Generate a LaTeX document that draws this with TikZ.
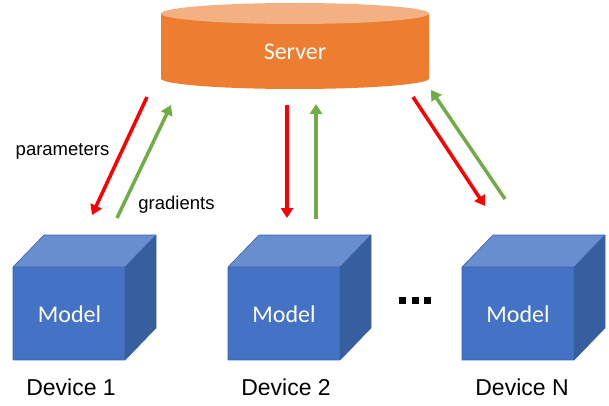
\documentclass[tikz,border=0pt]{standalone}
\usepackage{fontspec}
\setmainfont{Liberation Sans}
\newfontfamily\calfont{Carlito}
\usetikzlibrary{arrows.meta}
\definecolor{srvbody}{HTML}{ED7D31}
\definecolor{srvtop}{HTML}{F3B183}
\definecolor{cubefront}{HTML}{4472C4}
\definecolor{cubetop}{HTML}{698ED0}
\definecolor{cubeside}{HTML}{365F9F}
\definecolor{cubeedge}{HTML}{3A62A8}
\definecolor{arrred}{HTML}{FF0000}
\definecolor{arrgreen}{HTML}{70AD47}
\begin{document}
\begin{tikzpicture}[x=1pt,y=1pt,
  flow/.style={line width=3.5pt, -{Triangle[length=10pt,width=12pt]}},
  downflow/.style={flow, draw=arrred},
  upflow/.style={flow, draw=arrgreen},
  lbl/.style={font=\fontsize{18.5}{20}\selectfont, anchor=base, inner sep=0pt},
  devlbl/.style={font=\fontsize{23}{25}\selectfont, anchor=base, inner sep=0pt},
  wtext/.style={font=\calfont\fontsize{24}{26}\selectfont, text=white, anchor=base, inner sep=0pt},
  dotsq/.style={fill=black},
  devcube/.pic={
    \fill[cubefront] (0,0) rectangle (112,93);
    \fill[cubetop] (0,93) -- (31,125) -- (143,125) -- (112,93) -- cycle;
    \fill[cubeside] (112,0) -- (143,32) -- (143,125) -- (112,93) -- cycle;
    \draw[cubeedge, line width=0.6pt, line join=round] (0,0) rectangle (112,93)
      (0,93) -- (31,125) -- (143,125) -- (112,93) (143,125) -- (143,32) -- (112,0);
  }]
\useasboundingbox (0,0) rectangle (609,405);

% server cylinder
\fill[srvbody] (161,391.5) -- (161,326.5)
  arc[start angle=180, end angle=360, x radius=134, y radius=10.5]
  -- (429,391.5) -- cycle;
\fill[srvtop] (295,391.5) ellipse [x radius=134, y radius=10.5];
\node[wtext] (server) at (295,345) {Server};

% cubes
\pic at (13,45) {devcube};
\pic at (228,45) {devcube};
\pic at (462,45) {devcube};
\node[wtext] (m1) at (69.5,83) {Model};
\node[wtext] (m2) at (284,83) {Model};
\node[wtext] (mN) at (518,83) {Model};

\node[devlbl] (d1) at (71,10) {Device 1};
\node[devlbl] (d2) at (286,10) {Device 2};
\node[devlbl] (dN) at (522,10) {Device N};

% dots
\fill[dotsq] (399,101.5) rectangle ++(7,7);
\fill[dotsq] (411.5,101.5) rectangle ++(7,7);
\fill[dotsq] (424,101.5) rectangle ++(7,7);

% arrow end points
\coordinate (r1s) at (147,308); \coordinate (r1e) at (92,190);
\coordinate (g1s) at (117,187); \coordinate (g1e) at (171,300);
\coordinate (r2s) at (287,300); \coordinate (r2e) at (287,187);
\coordinate (g2s) at (316,186); \coordinate (g2e) at (316,301);
\coordinate (r3s) at (413,308); \coordinate (r3e) at (485,199);
\coordinate (g3s) at (505,206); \coordinate (g3e) at (431,315);

\draw[downflow] (r1s) -- (r1e);
\draw[upflow] (g1s) -- (g1e);
\draw[downflow] (r2s) -- (r2e);
\draw[upflow] (g2s) -- (g2e);
\draw[downflow] (r3s) -- (r3e);
\draw[upflow] (g3s) -- (g3e);

\node[lbl] (params) at (62.5,250) {parameters};
\node[lbl] (grads) at (176.5,196) {gradients};
\end{tikzpicture}
\end{document}
